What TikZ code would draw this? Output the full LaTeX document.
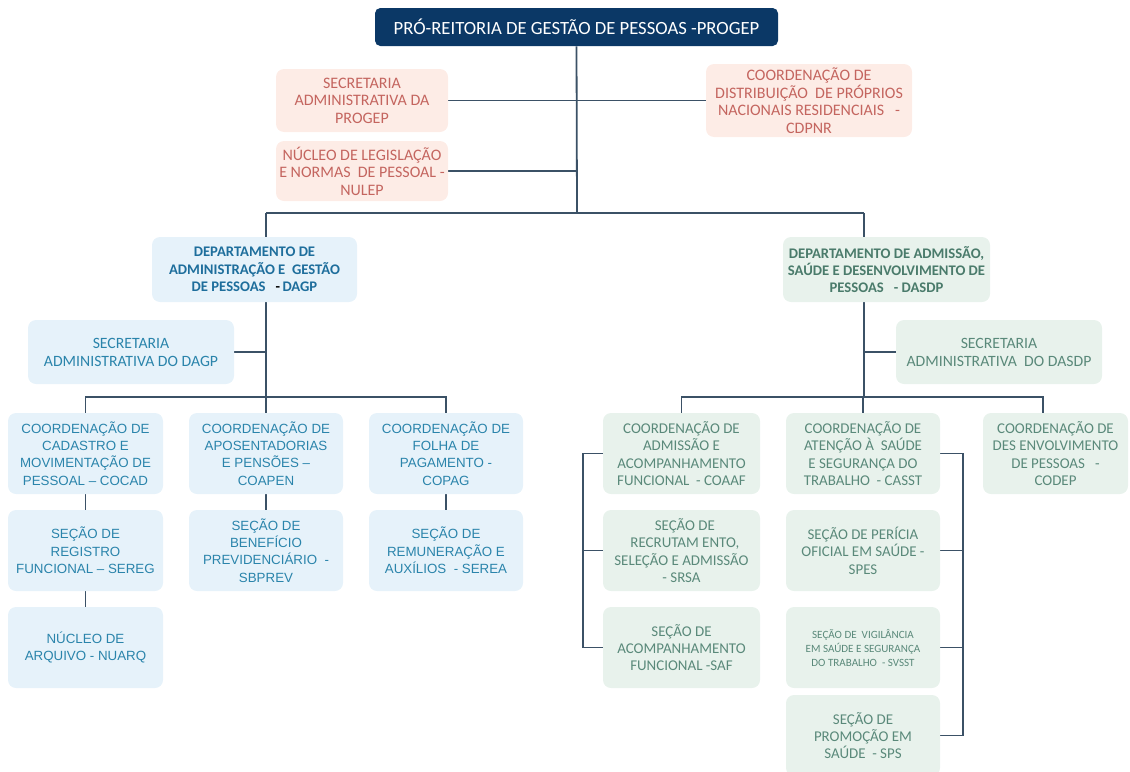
\documentclass[tikz,border=0pt]{standalone}
\usepackage{fontspec}
\setmainfont{Carlito}
\newfontfamily\arialf{Liberation Sans}
\usetikzlibrary{backgrounds}
\definecolor{navy}{HTML}{0B3866}
\definecolor{conncol}{HTML}{3B5166}
\definecolor{pinkfill}{HTML}{FDECE6}
\definecolor{pinktext}{HTML}{C4655F}
\definecolor{bluefill}{HTML}{E6F2FA}
\definecolor{bluetext}{HTML}{2A84AB}
\definecolor{bluebold}{HTML}{1E6E9C}
\definecolor{greenfill}{HTML}{E8F2EC}
\definecolor{greentext}{HTML}{5A897A}
\definecolor{greenbold}{HTML}{4A7B6B}
\tikzset{
  basebox/.style={rounded corners=6pt, inner sep=0pt, align=center, draw=none},
  titlebox/.style={basebox, fill=navy, text=white, rounded corners=4pt, font=\fontsize{14}{16}\selectfont},
  pinkbox/.style={basebox, fill=pinkfill, text=pinktext, font=\fontsize{12}{13.2}\selectfont},
  bluedept/.style={basebox, fill=bluefill, text=bluebold, font=\bfseries\fontsize{11}{13}\selectfont},
  bluesec/.style={basebox, fill=bluefill, text=bluetext, font=\fontsize{11.8}{13.5}\selectfont},
  bluebox/.style={basebox, fill=bluefill, text=bluetext, font=\arialf\fontsize{10}{13}\selectfont},
  greendept/.style={basebox, fill=greenfill, text=greenbold, font=\bfseries\fontsize{11}{13}\selectfont},
  greensec/.style={basebox, fill=greenfill, text=greentext, font=\fontsize{11.8}{13.5}\selectfont},
  greenbox/.style={basebox, fill=greenfill, text=greentext, font=\fontsize{11.2}{13}\selectfont},
  greensmall/.style={basebox, fill=greenfill, text=greentext, font=\fontsize{8.3}{10.5}\selectfont},
  conn/.style={draw=conncol, line width=1.35pt}
}
\newcommand\bx[7]{\node[#2, minimum width={(#5-#3)*0.75pt}, minimum height={(#6-#4)*0.75pt}] (#1) at ({(#3+#5)/2},{(#4+#6)/2}) {#7};}
\begin{document}
\begin{tikzpicture}[x=0.75pt,y=-0.75pt]
\useasboundingbox (0,0) rectangle (1130,771);
% top
\bx{title}{titlebox}{375}{8}{778}{46}{PRÓ-REITORIA DE GESTÃO DE PESSOAS -PROGEP}
\bx{spg}{pinkbox}{276}{69}{448}{132}{SECRETARIA\\ADMINISTRATIVA DA\\PROGEP}
\bx{nul}{pinkbox}{276}{141}{448}{201}{NÚCLEO DE LEGISLAÇÃO\\E NORMAS \ DE PESSOAL -\\NULEP}
\bx{cdp}{pinkbox}{706}{64}{912}{137}{COORDENAÇÃO DE\\DISTRIBUIÇÃO \ DE PRÓPRIOS\\NACIONAIS RESIDENCIAIS \ \ -\\CDPNR}
% departments
\bx{dagp}{bluedept}{152}{237}{357}{302}{DEPARTAMENTO DE\\ADMINISTRAÇÃO E \ GESTÃO\\DE PESSOAS \ \ \textcolor{black}{-}\,DAGP}
\bx{sdagp}{bluesec}{28}{320}{234}{384}{SECRETARIA\\ADMINISTRATIVA DO DAGP}
\bx{dasdp}{greendept}{783}{237}{990}{302}{DEPARTAMENTO DE ADMISSÃO,\\SAÚDE E DESENVOLVIMENTO DE\\PESSOAS \ \ - DASDP}
\bx{sdasdp}{greensec}{896}{320}{1102}{384}{SECRETARIA\\ADMINISTRATIVA \ DO DASDP}
% left coordinations
\bx{cocad}{bluebox}{8}{413}{163}{494}{COORDENAÇÃO DE\\CADASTRO E\\MOVIMENTAÇÃO DE\\PESSOAL – COCAD}
\bx{coapen}{bluebox}{189}{413}{343}{494}{COORDENAÇÃO DE\\APOSENTADORIAS\\E PENSÕES –\\COAPEN}
\bx{copag}{bluebox}{369}{413}{523}{494}{COORDENAÇÃO DE\\FOLHA DE\\PAGAMENTO -\\COPAG}
\bx{sereg}{bluebox}{8}{510}{163}{591}{SEÇÃO DE\\REGISTRO\\FUNCIONAL – SEREG}
\bx{sbprev}{bluebox}{189}{510}{343}{591}{SEÇÃO DE\\BENEFÍCIO\\PREVIDENCIÁRIO \ -\\SBPREV}
\bx{serea}{bluebox}{369}{510}{523}{591}{SEÇÃO DE\\REMUNERAÇÃO E\\AUXÍLIOS \ - SEREA}
\bx{nuarq}{bluebox}{8}{607}{163}{688}{NÚCLEO DE\\ARQUIVO - NUARQ}
% right coordinations
\bx{coaaf}{greenbox}{603}{413}{760}{494}{COORDENAÇÃO DE\\ADMISSÃO E\\ACOMPANHAMENTO\\FUNCIONAL \ - COAAF}
\bx{casst}{greenbox}{786}{413}{940}{494}{COORDENAÇÃO DE\\ATENÇÃO À \ SAÚDE\\E SEGURANÇA DO\\TRABALHO \ - CASST}
\bx{codep}{greenbox}{983}{413}{1128}{494}{COORDENAÇÃO DE\\DES ENVOLVIMENTO\\DE PESSOAS \ \ -\\CODEP}
\bx{srsa}{greenbox}{603}{510}{760}{591}{\ \ SEÇÃO DE\\\ \ RECRUTAM ENTO,\\SELEÇÃO E ADMISSÃO\\- SRSA}
\bx{saf}{greenbox}{603}{607}{760}{688}{SEÇÃO DE\\ACOMPANHAMENTO\\FUNCIONAL -SAF}
\bx{spes}{greenbox}{786}{510}{940}{591}{SEÇÃO DE PERÍCIA\\OFICIAL EM SAÚDE -\\SPES}
\bx{svsst}{greensmall}{786}{607}{940}{688}{SEÇÃO DE \ VIGILÂNCIA\\EM SAÚDE E SEGURANÇA\\DO TRABALHO \ - SVSST}
\bx{sps}{greenbox}{786}{695}{940}{776}{SEÇÃO DE\\PROMOÇÃO EM\\SAÚDE \ - SPS}
% bus points
\coordinate (tb) at (577,213);
\coordinate (lb) at (266,213);
\coordinate (rb) at (864,213);
\coordinate (lbus) at (266,397);
\coordinate (rbus) at (864,397);
\coordinate (codept) at (1043,413);
\begin{scope}[on background layer]
\draw[conn] (title.south) -- (tb);
\draw[conn] (spg.east) -- (cdp.west);
\draw[conn] (nul.east) -- (nul.east -| tb);
\draw[conn] (lb) -- (rb);
\draw[conn] (lb) -- (lbus);
\draw[conn] (rb) -- (rbus);
\draw[conn] (sdagp.east) -- (sdagp.east -| lbus);
\draw[conn] (sdasdp.west) -- (sdasdp.west -| rbus);
\draw[conn] (cocad.north) -- (cocad.north |- lbus) -| (copag.north);
\draw[conn] (coapen.north) -- (coapen.north |- lbus);
\draw[conn] (coaaf.north) -- (coaaf.north |- rbus) -| (codept);
\draw[conn] (casst.north) -- (casst.north |- rbus);
\draw[conn] (cocad.south) -- (sereg.north);
\draw[conn] (sereg.south) -- (nuarq.north);
\draw[conn] (coapen.south) -- (sbprev.north);
\draw[conn] (copag.south) -- (serea.north);
\draw[conn] (coaaf.west) -- ++(-20,0) |- (saf.west);
\draw[conn] (srsa.west) -- ++(-20,0);
\draw[conn] (casst.east) -- ++(23,0) |- (sps.east);
\draw[conn] (spes.east) -- ++(23,0);
\draw[conn] (svsst.east) -- ++(23,0);
\end{scope}
\end{tikzpicture}
\end{document}
